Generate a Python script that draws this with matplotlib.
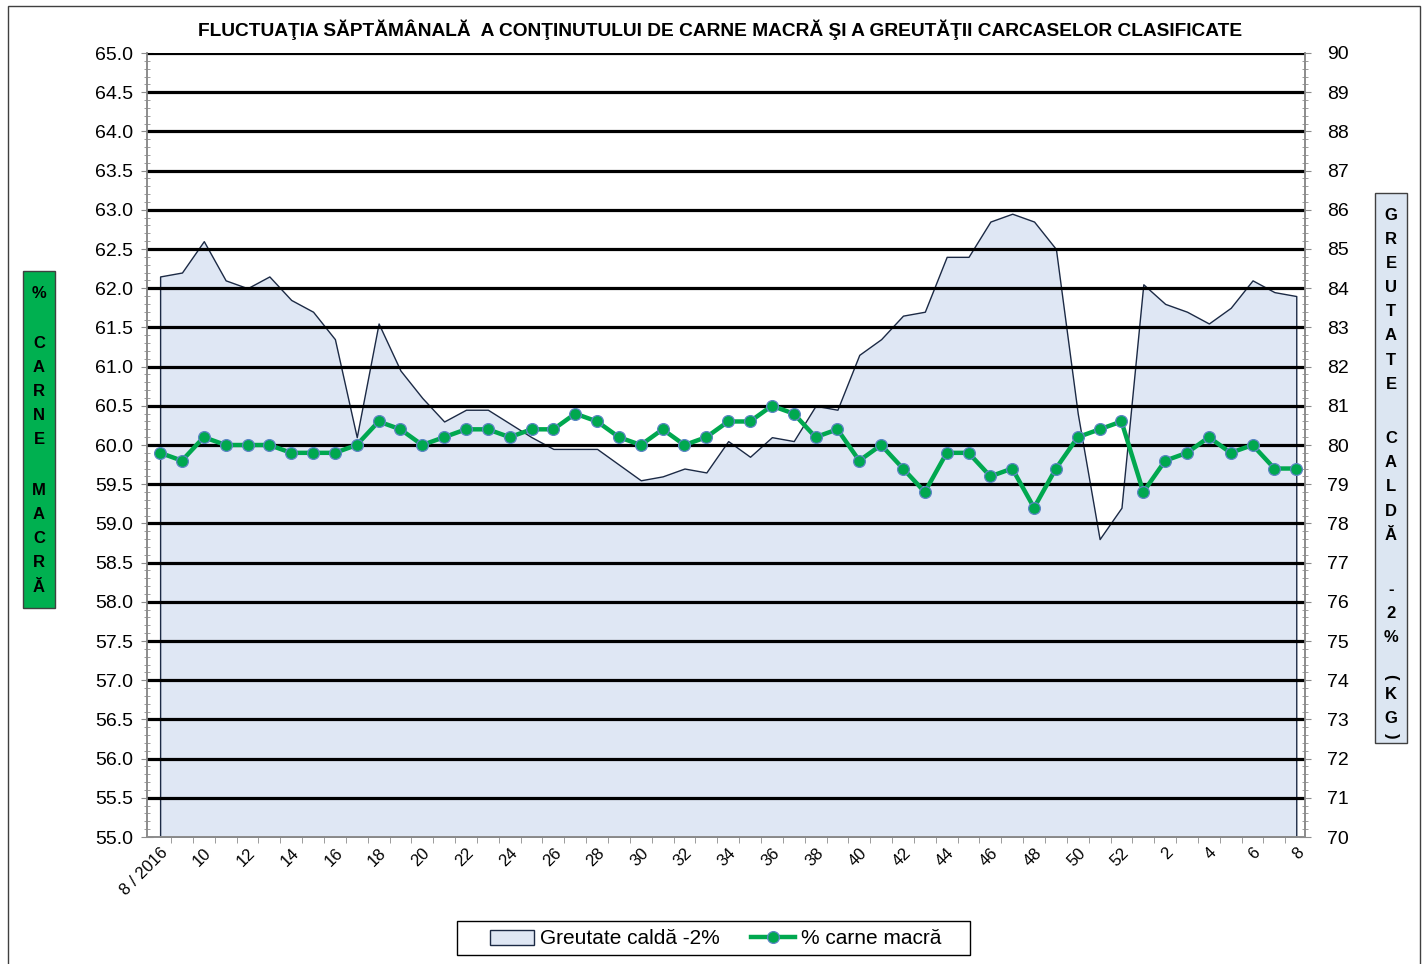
import numpy as np
import matplotlib
matplotlib.use("Agg")
import matplotlib.pyplot as plt
from matplotlib.patches import Rectangle
from matplotlib.ticker import MultipleLocator, FormatStrFormatter

plt.rcParams['font.family'] = ['Liberation Sans', 'DejaVu Sans']

# saptamani: 8/2016 ... 52, apoi 1 ... 8 (2017)
weeks = list(range(8, 53)) + list(range(1, 9))
week_labels = ["8 / 2016"] + [str(w) for w in weeks[1:]]

# % carne macra (axa stanga)
lean_meat = [59.9, 59.8, 60.1, 60.0, 60.0, 60.0, 59.9, 59.9, 59.9, 60.0,
             60.3, 60.2, 60.0, 60.1, 60.2, 60.2, 60.1, 60.2, 60.2, 60.4,
             60.3, 60.1, 60.0, 60.2, 60.0, 60.1, 60.3, 60.3, 60.5, 60.4,
             60.1, 60.2, 59.8, 60.0, 59.7, 59.4, 59.9, 59.9, 59.6, 59.7,
             59.2, 59.7, 60.1, 60.2, 60.3, 59.4, 59.8, 59.9, 60.1, 59.9,
             60.0, 59.7, 59.7]

# greutate calda -2% (kg, axa dreapta)
hot_weight = [84.3, 84.4, 85.2, 84.2, 84.0, 84.3, 83.7, 83.4, 82.7, 80.2,
              83.1, 81.9, 81.2, 80.6, 80.9, 80.9, 80.55, 80.2, 79.9, 79.9,
              79.9, 79.5, 79.1, 79.2, 79.4, 79.3, 80.1, 79.7, 80.2, 80.1,
              81.0, 80.9, 82.3, 82.7, 83.3, 83.4, 84.8, 84.8, 85.7, 85.9,
              85.7, 85.0, 80.8, 77.6, 78.4, 84.1, 83.6, 83.4, 83.1, 83.5,
              84.2, 83.9, 83.8]

title = "FLUCTUAŢIA SĂPTĂMÂNALĂ  A CONŢINUTULUI DE CARNE MACRĂ ŞI A GREUTĂŢII CARCASELOR CLASIFICATE"

W, H = 1427, 964
fig = plt.figure(figsize=(W / 100, H / 100), dpi=100)
ax = fig.add_axes([147 / W, 1 - 837 / H, (1305 - 147) / W, (837 - 53) / H])
ax2 = ax.twinx()
ax.set_zorder(ax2.get_zorder() + 1)
ax.patch.set_visible(False)

x = np.arange(len(weeks))
green = '#00a84f'
blue_fill = '#dfe7f4'
gray = '#8c8c8c'

# aria - greutate
ax2.fill_between(x, hot_weight, 70, facecolor=blue_fill, edgecolor='#1c2a45',
                 linewidth=1.0, label="Greutate caldă -2%")
ax2.set_ylim(70, 90)
ax2.yaxis.set_major_locator(MultipleLocator(1))
ax2.yaxis.set_minor_locator(MultipleLocator(0.2))

# linia - carne macra
ax.plot(x, lean_meat, color=green, lw=3.2, marker='o', ms=8.5,
        mfc=green, mec='#5b85c4', mew=0.9, zorder=5, label="% carne macră")
ax.set_ylim(55, 65)
ax.yaxis.set_major_locator(MultipleLocator(0.5))
ax.yaxis.set_minor_locator(MultipleLocator(0.1))
ax.yaxis.set_major_formatter(FormatStrFormatter('%.1f'))
for v in np.arange(55.5, 65.01, 0.5):
    ax.axhline(v, color='black', lw=2.3, zorder=2)

ax.set_xlim(-0.6, 52.4)
ax.set_xticks(x[::2])
ax.set_xticklabels(week_labels[::2], rotation=45, ha='right', va='top',
                   rotation_mode='anchor', fontsize=12)
ax.set_xticks(np.arange(0.5, 52, 1), minor=True)
ax.tick_params(axis='x', which='major', length=0, pad=6)
ax.tick_params(axis='x', which='minor', length=4, color=gray, direction='out')

ax.tick_params(axis='y', which='major', labelsize=14, length=8, color=gray,
               direction='inout', pad=6)
ax.tick_params(axis='y', which='minor', length=5, color=gray, direction='inout')
ax2.tick_params(axis='y', which='major', labelsize=14, length=8, color=gray,
                direction='inout', pad=12)
ax2.tick_params(axis='y', which='minor', length=5, color=gray, direction='inout')

for a in (ax, ax2):
    a.spines['top'].set_visible(False)
    for s in ('left', 'right', 'bottom'):
        a.spines[s].set_color(gray)
        a.spines[s].set_linewidth(1.2)

fig.text(720 / W, 1 - 30 / H, title, ha='center', va='center',
         fontsize=13.8, fontweight='bold',
         family=['Liberation Sans Narrow', 'Liberation Sans', 'DejaVu Sans'])

# casete laterale cu titlurile axelor
fig.add_artist(Rectangle((23 / W, 1 - 608 / H), 32 / W, 337 / H,
                         transform=fig.transFigure, facecolor='#00b050',
                         edgecolor='#404040', lw=1))
y = 293
for ch in "% CARNE MACRĂ":
    if ch == ' ':
        y += 26
        continue
    fig.text(39 / W, 1 - y / H, ch, ha='center', va='center',
             fontsize=12, fontweight='bold')
    y += 24.2

fig.add_artist(Rectangle((1375 / W, 1 - 743 / H), 32 / W, 550 / H,
                         transform=fig.transFigure, facecolor='#dce6f2',
                         edgecolor='#404040', lw=1))
right_txt = "GREUTATE CALDĂ -2% (KG)"
y = 215
for i, ch in enumerate(right_txt):
    nxt = right_txt[i + 1] if i + 1 < len(right_txt) else ''
    if ch == ' ':
        y += 15 if nxt == '(' else 30
        continue
    if ch in '()':
        fig.text(1391 / W, 1 - y / H, ch, ha='center', va='center',
                 fontsize=12, fontweight='bold', rotation=-90)
        y += 17
        continue
    fig.text(1391 / W, 1 - y / H, ch, ha='center', va='center',
             fontsize=12, fontweight='bold')
    y += 17 if nxt == ')' else 24.2

# legenda (chenarul desenat separat, mai lat ca in Excel)
h2, l2 = ax2.get_legend_handles_labels()
h1, l1 = ax.get_legend_handles_labels()
leg = fig.legend(h2 + h1, l2 + l1, loc='center', ncol=2,
                 bbox_to_anchor=(716 / W, 1 - 939 / H), fontsize=15,
                 frameon=False, handlelength=2.1, columnspacing=1.5,
                 handletextpad=0.3, borderaxespad=0)
fig.add_artist(Rectangle((457 / W, 1 - 955 / H), (970 - 457) / W, 34 / H,
                         transform=fig.transFigure, fill=False,
                         edgecolor='black', lw=1))

# chenar exterior
fig.add_artist(Rectangle((8 / W, -0.01), (1420 - 8) / W, 1.01 - 6 / H,
                         transform=fig.transFigure, fill=False,
                         edgecolor='#404040', lw=1))

fig.savefig("out.png", dpi=100)
